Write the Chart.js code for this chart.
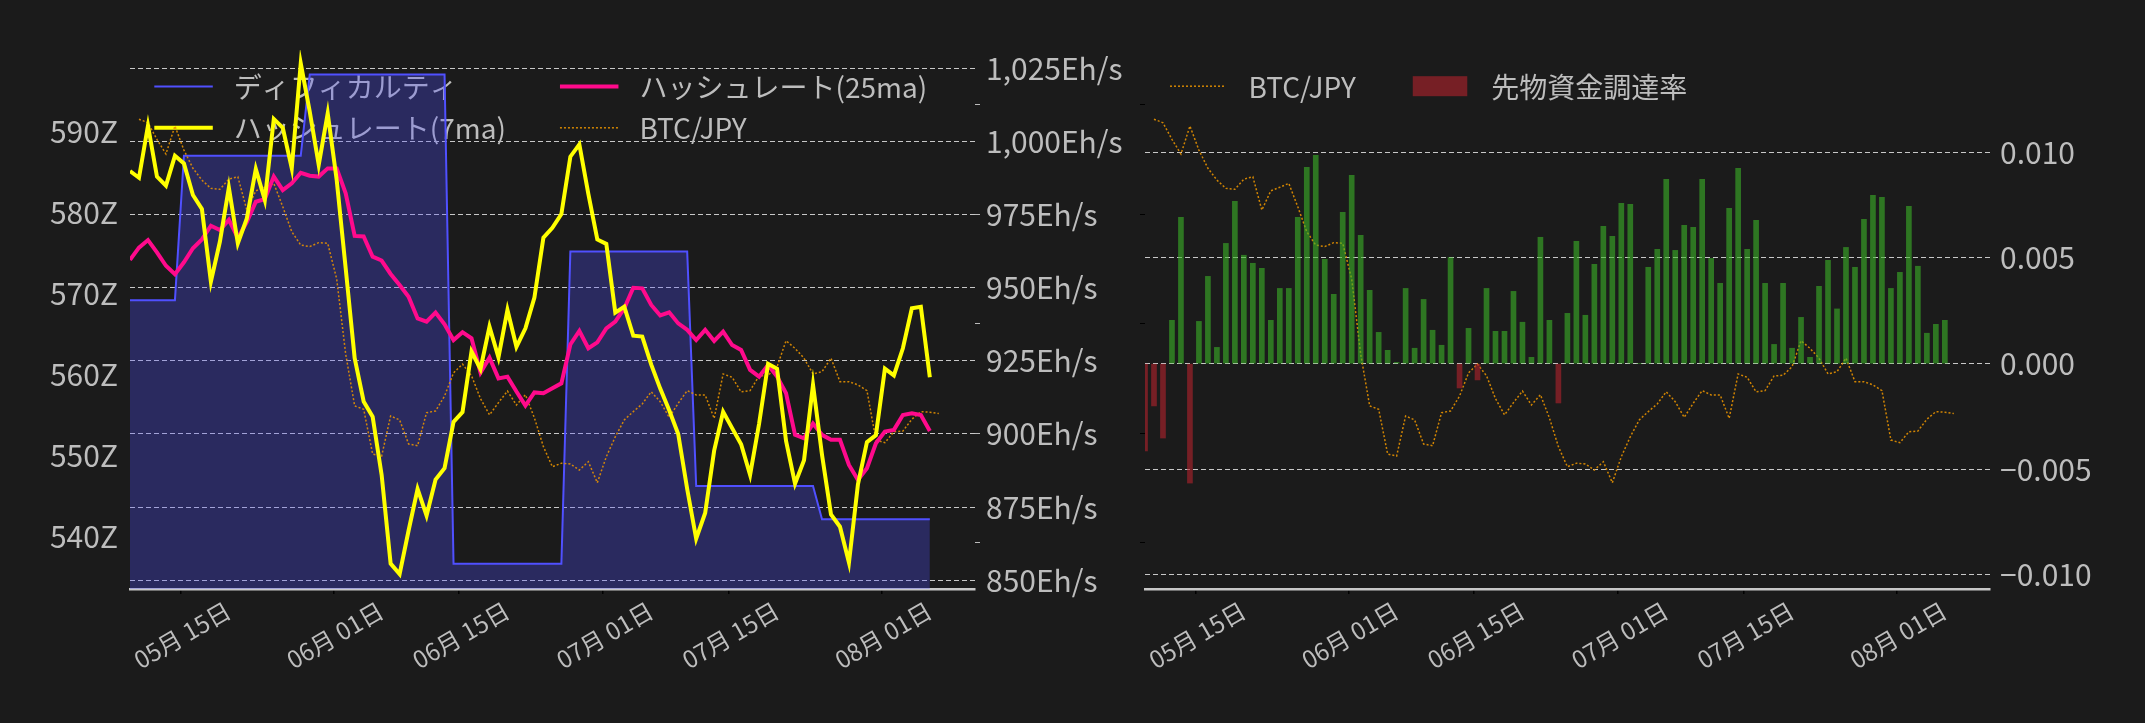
<!DOCTYPE html>
<html>
<head>
<meta charset="utf-8">
<script src="https://cdn.jsdelivr.net/npm/chart.js"></script>
<style>
html,body{margin:0;padding:0;background:#1b1b1b;width:2145px;height:723px;overflow:hidden}
#c1{position:absolute;left:0;top:0;width:1130px;height:723px}
#c2{position:absolute;left:1130px;top:0;width:1015px;height:723px}
</style>
</head>
<body>
<div id="c1"><canvas id="chart1"></canvas></div>
<div id="c2"><canvas id="chart2"></canvas></div>
<script>
// ---------------- data ----------------
const firstHashDate = '2025-05-09';   // daily series (hashrate, difficulty, funding)
const firstBtcDate  = '2025-05-10';   // daily BTC/JPY series

const hashrate7ma = [989.9,987.6,1005.4,988.0,984.9,995.1,992.5,981.7,976.9,952.1,
  965.7,984.2,965.2,973.7,990.6,980.0,1007.7,1004.7,990.8,1026.7,
  1010.2,992.0,1009.6,986.8,956.6,925.9,911.1,905.9,886.0,855.7,
  852.1,867.0,881.2,872.1,884.4,888.3,904.1,907.5,928.2,922.2,
  936.7,926.2,942.4,929.8,936.1,946.6,967.1,970.5,975.2,994.8,
  999.0,982.1,966.5,965.0,941.5,943.5,933.6,933.3,923.7,915.5,
  908.1,900.0,881.2,864.2,873.0,894.3,907.6,902.0,896.5,886.0,
  903.5,924.0,922.3,897.6,883.0,891.0,916.8,892.9,872.5,868.3,
  856.0,882.8,897.2,899.6,922.3,920.0,929.3,943.0,943.5,919.4];

const hashrate25ma = [959.5,963.7,966.3,962.1,957.5,954.6,958.7,963.5,966.5,971.2,
  969.7,973.2,967.1,972.4,979.4,980.3,988.0,983.4,985.7,989.3,
  988.3,988.0,990.8,990.8,982.3,967.7,967.5,960.6,959.3,954.7,
  950.9,946.9,939.5,938.4,941.5,937.5,932.1,934.8,932.7,921.0,
  926.1,919.0,919.6,914.5,909.7,914.2,913.9,915.6,917.3,930.6,
  935.2,929.3,931.3,936.1,938.4,943.0,950.0,949.8,944.1,940.5,
  941.6,937.8,935.6,932.1,935.6,931.8,935.0,930.4,928.7,921.9,
  919.6,923.6,919.6,913.9,899.7,898.5,903.6,899.7,898.0,898.0,
  889.4,884.3,888.3,896.8,900.8,901.4,906.5,907.1,906.5,901.0];

const difficultyZ = [569.2,569.2,569.2,569.2,569.2,569.2,
  587.0,587.0,587.0,587.0,587.0,587.0,587.0,587.0,587.0,587.0,587.0,587.0,587.0,587.0,
  597.0,597.0,597.0,597.0,597.0,597.0,597.0,597.0,597.0,597.0,597.0,597.0,597.0,597.0,597.0,597.0,
  536.7,536.7,536.7,536.7,536.7,536.7,536.7,536.7,536.7,536.7,536.7,536.7,536.7,
  575.2,575.2,575.2,575.2,575.2,575.2,575.2,575.2,575.2,575.2,575.2,575.2,575.2,575.2,
  546.3,546.3,546.3,546.3,546.3,546.3,546.3,546.3,546.3,546.3,546.3,546.3,546.3,546.3,
  542.2,542.2,542.2,542.2,542.2,542.2,542.2,542.2,542.2,542.2,542.2,542.2,542.2];

const fundingRate = [-0.00413,-0.00200,-0.00352,0.00205,0.00692,-0.00565,0.00200,0.00413,0.00077,0.00569,
  0.00768,0.00513,0.00475,0.00451,0.00205,0.00356,0.00356,0.00692,0.00929,0.00986,
  0.00494,0.00328,0.00716,0.00891,0.00607,0.00347,0.00148,0.00063,0.00006,0.00356,
  0.00073,0.00304,0.00158,0.00087,0.00502,-0.00115,0.00167,-0.00077,0.00356,0.00153,
  0.00153,0.00342,0.00196,0.00030,0.00598,0.00205,-0.00186,0.00238,0.00579,0.00229,
  0.00470,0.00650,0.00603,0.00759,0.00754,0,0.00456,0.00541,0.00872,0.00536,
  0.00655,0.00645,0.00872,0.00498,0.00380,0.00735,0.00924,0.00541,0.00678,0.00380,
  0.00091,0.00380,0.00073,0.00219,0.00030,0.00366,0.00489,0.00259,0.00550,0.00456,
  0.00683,0.00797,0.00787,0.00356,0.00432,0.00744,0.00461,0.00144,0.00186,0.00205];

const btcJpy = [16935000,16919000,16843000,16776000,16904000,16794000,16711000,16657000,16619000,16615000,
  16661000,16672000,16520000,16608000,16624000,16642000,16535000,16421000,16360000,16353000,
  16371000,16368000,16205000,15862000,15625000,15610000,15405000,15396000,15579000,15561000,
  15451000,15443000,15594000,15602000,15670000,15776000,15816000,15763000,15658000,15584000,
  15640000,15693000,15629000,15676000,15570000,15439000,15347000,15363000,15360000,15332000,
  15370000,15274000,15393000,15484000,15561000,15599000,15634000,15690000,15644000,15573000,
  15637000,15695000,15675000,15675000,15568000,15771000,15756000,15689000,15695000,15762000,
  15765000,15804000,15923000,15888000,15843000,15771000,15781000,15843000,15736000,15736000,
  15721000,15695000,15469000,15457000,15507000,15510000,15564000,15599000,15596000,15590000];

const xTickDates = ['2025-05-15','2025-06-01','2025-06-15','2025-07-01','2025-07-15','2025-08-01'];
const xTickLabels = ['05月 15日','06月 01日','06月 15日','07月 01日','07月 15日','08月 01日'];
const zTicks = [540,550,560,570,580,590];
const hashTicks = [850,875,900,925,950,975,1000,1025];
const fundTicks = [-0.010,-0.005,0,0.005,0.010];
const btcTicks = [15000000,15500000,16000000,16500000,17000000];

// ---------------- helpers ----------------
const BASE = Date.parse('2025-05-01T00:00:00+09:00');   // JST axis
const dayOfUTC = s => (Date.parse(s + 'T00:00:00Z') - BASE) / 864e5;
const dayOfJST = s => (Date.parse(s + 'T00:00:00+09:00') - BASE) / 864e5;
const seriesDays = (start, n) => Array.from({length: n}, (_, i) => dayOfUTC(start) + i);
const hashDays = seriesDays(firstHashDate, hashrate7ma.length);
const btcDays = seriesDays(firstBtcDate, btcJpy.length);
const xTickDays = xTickDates.map(dayOfJST);
const pts = (xs, ys) => ys.map((y, i) => ({x: xs[i], y}));

const FONT = '"Noto Sans CJK JP", "Noto Sans", sans-serif';
const TEXT = '#bdbdbd';
const GRID = '#c8c8c8';
const GREEN = 'rgba(60,180,40,0.6)';
const RED = 'rgba(180,35,45,0.6)';
const BTC_COLOR = 'rgba(230,145,0,0.9)';
Chart.defaults.font.family = FONT;
Chart.defaults.color = TEXT;
Chart.defaults.animation = false;

const xMin = hashDays[0];
const xMax = 102.4;

const setTicks = vals => s => { s.ticks = vals.map(v => ({value: v})); };

function xScale() {
  return {
    type: 'linear', position: 'bottom', min: xMin, max: xMax, offset: false,
    afterBuildTicks: setTicks(xTickDays),
    afterFit: s => { s.height = 134; s.paddingLeft = 0; s.paddingRight = 0; },
    grid: {offset: false, drawOnChartArea: false, drawTicks: true, tickLength: 5, color: '#000', tickColor: '#000', lineWidth: 1.5},
    border: {display: true, color: '#c8c8c8', width: 2.5},
    ticks: {autoSkip: false, minRotation: 30, maxRotation: 30, labelOffset: 48, padding: 2,
      color: TEXT, font: {size: 24},
      callback: v => { const k = xTickDays.findIndex(d => Math.abs(d - v) < 1e-6); return k >= 0 ? xTickLabels[k] : ''; }}
  };
}

function btcScale(position, width, tickColor) {
  return {
    type: 'linear', position, weight: 0, min: 14788450, max: 17251300,
    afterBuildTicks: setTicks(btcTicks),
    afterFit: s => { s.width = width; },
    grid: {drawOnChartArea: false, drawTicks: true, tickLength: 5, color: tickColor, tickColor: tickColor},
    border: {display: false},
    ticks: {display: false}
  };
}

// in-chart legend (drawn under the data, like the reference)
const inlineLegend = {
  id: 'inlineLegend',
  beforeDatasetsDraw(chart, args, o) {
    const {ctx, chartArea} = chart;
    ctx.save();
    ctx.font = o.fontSize + 'px ' + FONT;
    ctx.textBaseline = 'middle';
    ctx.textAlign = 'left';
    let x = chartArea.left + o.offsetX;
    o.columns.forEach(col => {
      let y = chartArea.top + o.offsetY;
      let colW = 0;
      col.forEach(idx => {
        const ds = chart.data.datasets[idx];
        ctx.save();
        if (ds.type === 'bar') {
          ctx.fillStyle = RED;
          ctx.fillRect(x, y - 10, o.sampleWidth, 20);
        } else {
          ctx.strokeStyle = ds.borderColor;
          ctx.lineWidth = ds.borderWidth;
          ctx.setLineDash(ds.borderDash || []);
          ctx.beginPath(); ctx.moveTo(x, y); ctx.lineTo(x + o.sampleWidth, y); ctx.stroke();
        }
        ctx.restore();
        ctx.fillStyle = TEXT;
        ctx.fillText(ds.label, x + o.sampleWidth + o.gap, y + 1);
        colW = Math.max(colW, o.sampleWidth + o.gap + ctx.measureText(ds.label).width);
        y += o.rowHeight;
      });
      x += colW + o.colGap;
    });
    ctx.restore();
  }
};

// ---------------- left chart ----------------
new Chart(document.getElementById('chart1'), {
  type: 'line',
  data: {
    datasets: [
      {label: 'ディフィカルティ', data: pts(hashDays, difficultyZ), yAxisID: 'yZ',
        borderColor: '#5050ff', borderWidth: 2, backgroundColor: 'rgba(80,80,255,0.3)', fill: 'start',
        pointRadius: 0, tension: 0, order: 4},
      {label: 'ハッシュレート(7ma)', data: pts(hashDays, hashrate7ma), yAxisID: 'yHash',
        borderColor: '#ffff00', borderWidth: 4, pointRadius: 0, tension: 0, fill: false, order: 1},
      {label: 'ハッシュレート(25ma)', data: pts(hashDays, hashrate25ma), yAxisID: 'yHash',
        borderColor: '#ff0a8c', borderWidth: 4, pointRadius: 0, tension: 0, fill: false, order: 2},
      {label: 'BTC/JPY', data: pts(btcDays, btcJpy), yAxisID: 'yBtc',
        borderColor: BTC_COLOR, borderWidth: 1.5, borderDash: [2, 2], pointRadius: 0, tension: 0, fill: false, order: 3}
    ]
  },
  options: {
    responsive: true, maintainAspectRatio: false, animation: false,
    layout: {padding: {top: 50, left: 0, right: 0, bottom: 0}},
    plugins: {
      legend: {display: false}, tooltip: {enabled: false},
      inlineLegend: {fontSize: 28, offsetX: 24.3, offsetY: 36.5, rowHeight: 41.3, sampleWidth: 58.5, gap: 21, colGap: 54,
        columns: [[0, 1], [2, 3]]}
    },
    scales: {
      x: xScale(),
      yZ: {type: 'linear', position: 'left', min: 533.6, max: 600.03,
        afterBuildTicks: setTicks(zTicks), afterFit: s => { s.width = 130; },
        grid: {display: false, drawTicks: false}, border: {display: false},
        ticks: {padding: 12, color: TEXT, font: {size: 30}, callback: v => v + 'Z'}},
      yBtc: btcScale('right', 5, '#bbbbbb'),
      yHash: {type: 'linear', position: 'right', weight: 1, min: 847.0, max: 1031.27,
        afterBuildTicks: setTicks(hashTicks), afterFit: s => { s.width = 150; },
        grid: {color: GRID, lineWidth: 1, drawTicks: false}, border: {display: false, dash: [5, 3]},
        ticks: {padding: 6, color: TEXT, font: {size: 30}, callback: v => v.toLocaleString('en-US') + 'Eh/s'}}
    }
  },
  plugins: [inlineLegend]
});

// ---------------- right chart ----------------
new Chart(document.getElementById('chart2'), {
  type: 'line',
  data: {
    datasets: [
      {label: 'BTC/JPY', data: pts(btcDays, btcJpy), yAxisID: 'yBtc2',
        borderColor: BTC_COLOR, borderWidth: 1.5, borderDash: [2, 2], pointRadius: 0, tension: 0, fill: false, order: 1},
      {type: 'bar', label: '先物資金調達率', data: pts(hashDays, fundingRate), yAxisID: 'yFund',
        backgroundColor: c => (c.raw && c.raw.y < 0) ? RED : GREEN, borderWidth: 0, barThickness: 5, order: 0}
    ]
  },
  options: {
    responsive: true, maintainAspectRatio: false, animation: false,
    layout: {padding: {top: 50, left: 0, right: 0, bottom: 0}},
    plugins: {
      legend: {display: false}, tooltip: {enabled: false},
      inlineLegend: {fontSize: 28, offsetX: 25, offsetY: 36.2, rowHeight: 41.3, sampleWidth: 54.5, gap: 24, colGap: 57,
        columns: [[0], [1]]}
    },
    scales: {
      x: xScale(),
      yBtc2: btcScale('left', 15, '#000000'),
      yFund: {type: 'linear', position: 'right', min: -0.010663, max: 0.014842,
        afterBuildTicks: setTicks(fundTicks), afterFit: s => { s.width = 155; },
        grid: {color: GRID, lineWidth: 1, drawTicks: false}, border: {display: false, dash: [5, 3]},
        ticks: {padding: 10, color: TEXT, font: {size: 30},
          callback: v => (v < 0 ? '\u2212' : '') + Math.abs(v).toFixed(3)}}
    }
  },
  plugins: [inlineLegend]
});
</script>
</body>
</html>
